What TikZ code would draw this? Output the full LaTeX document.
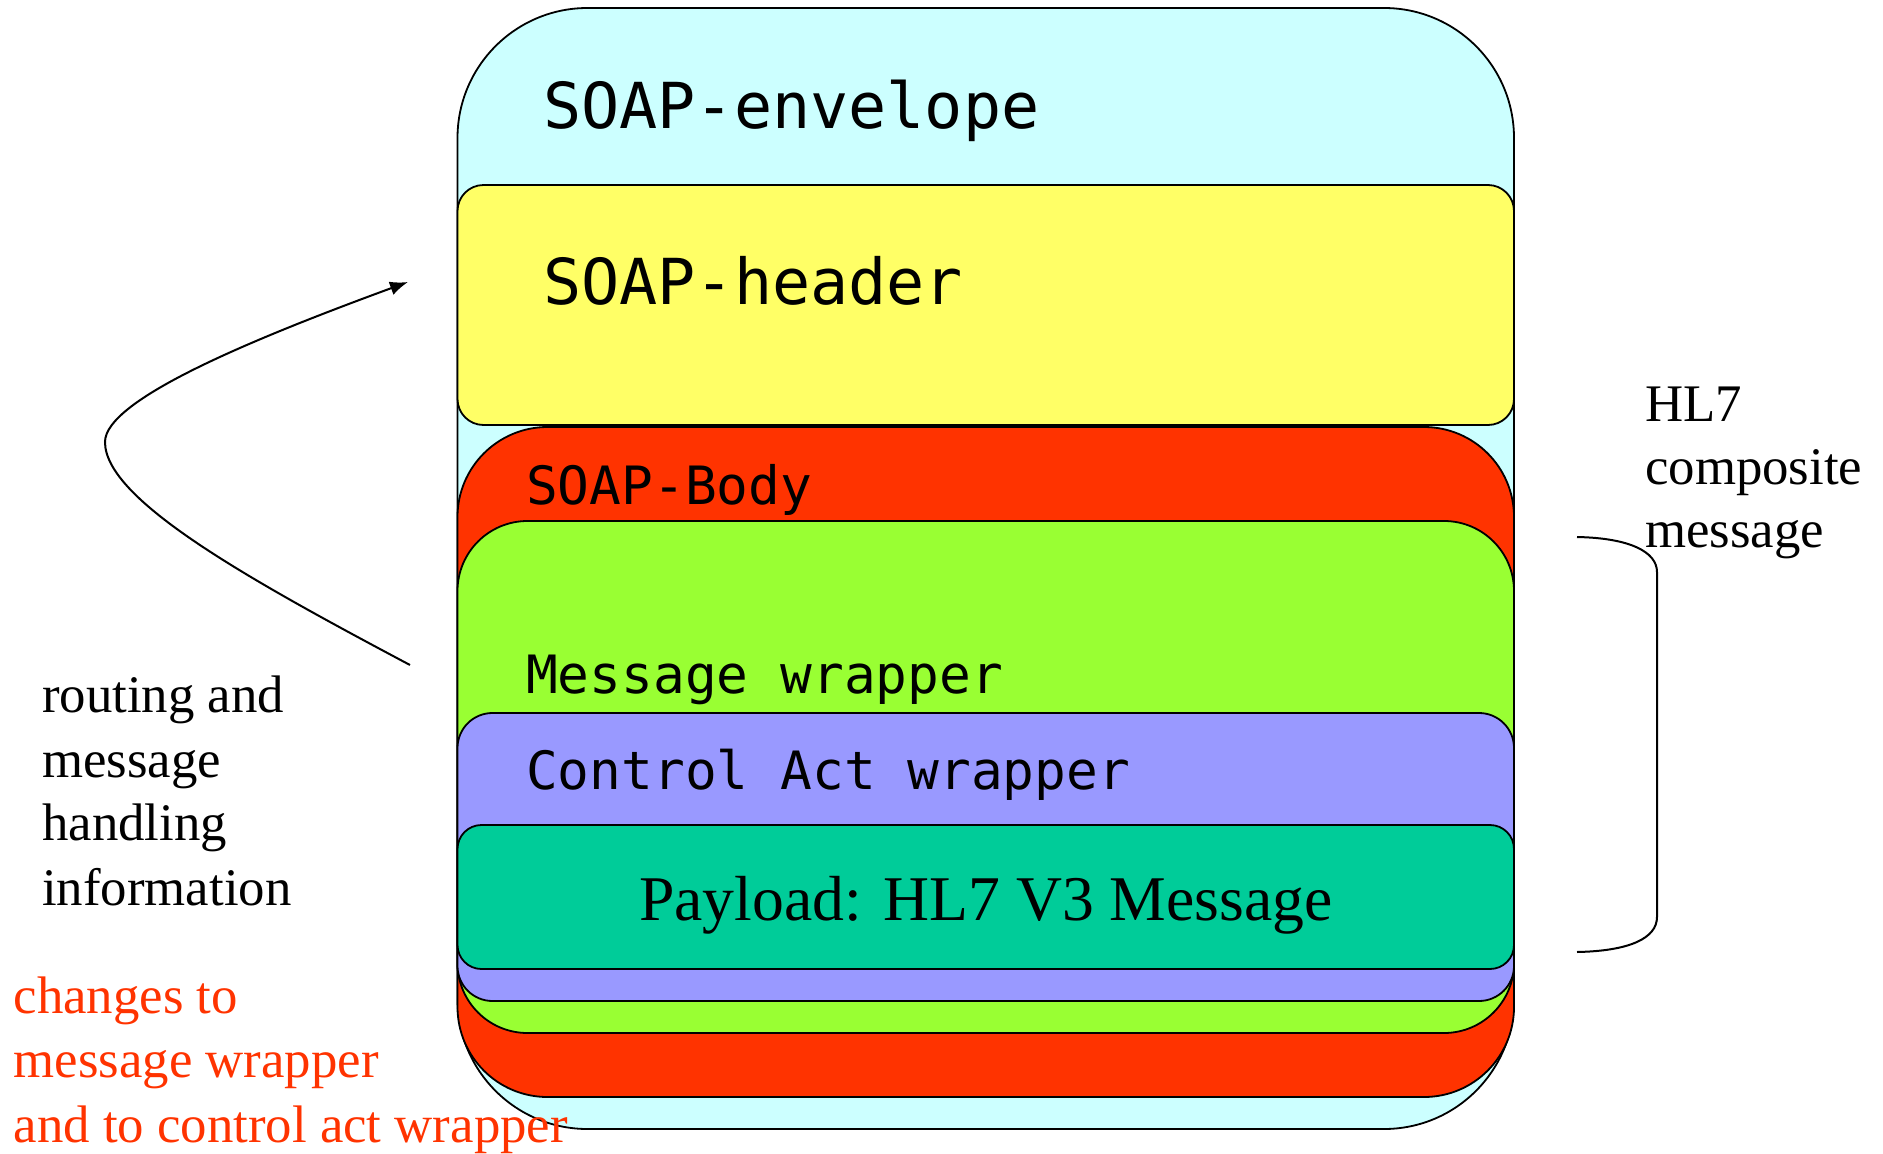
\documentclass[tikz,border=0pt]{standalone}
\usepackage{fontspec}
\setmainfont{Liberation Serif}
\newfontfamily\monof{DejaVu Sans Mono}
\usetikzlibrary{arrows.meta}
\definecolor{envc}{HTML}{CCFFFF}
\definecolor{hdrc}{HTML}{FFFF66}
\definecolor{bodyc}{HTML}{FF3300}
\definecolor{msgc}{HTML}{99FF33}
\definecolor{ctlc}{HTML}{9999FF}
\definecolor{payc}{HTML}{00CC99}
\definecolor{redtxt}{HTML}{FF3300}
\begin{document}
\begin{tikzpicture}[x=1pt,y=-1pt,
  layer/.style={draw=black, line width=1.8pt, inner sep=0pt, outer sep=0pt, minimum width=1056.5pt},
  bigmono/.style={anchor=base west, inner sep=0pt, font=\monof\fontsize{63.4}{70}\selectfont},
  monolbl/.style={anchor=base west, inner sep=0pt, font=\monof\fontsize{52.8}{60}\selectfont},
  serlbl/.style={anchor=base west, inner sep=0pt, font=\fontsize{52.8}{64}\selectfont},
  conn/.style={line width=2pt, -{Latex[length=18pt,width=14pt]}},
  bracel/.style={line width=2pt}
]
\useasboundingbox (0,0) rectangle (1883,1154);
% layers
\node[layer, fill=envc, minimum height=1121pt, rounded corners=130pt] (env) at (985.75,568.5) {};
\node[layer, fill=hdrc, minimum height=240pt, rounded corners=26pt] (hdr) at (985.75,305) {};
\node[layer, fill=bodyc, minimum height=670pt, rounded corners=90pt] (body) at (985.75,762) {};
\node[layer, fill=msgc, minimum height=512pt, rounded corners=70pt] (msg) at (985.75,777) {};
\node[layer, fill=ctlc, minimum height=288pt, rounded corners=35pt] (ctl) at (985.75,857) {};
\node[layer, fill=payc, minimum height=144pt, rounded corners=24pt] (pay) at (985.75,897) {};
% labels in layers
\node[bigmono] (tenv) at (543,128.5) {SOAP-envelope};
\node[bigmono] (thdr) at (543,304) {SOAP-header};
\node[monolbl] (tbody) at (526,504) {SOAP-Body};
\node[monolbl] (tmsg) at (526,693) {Message wrapper};
\node[monolbl] (tctl) at (526,789) {Control Act wrapper};
\node[anchor=base, inner sep=0pt, font=\fontsize{63.7}{70}\selectfont] (tpay) at (986,920) {Payload: HL7 V3 Message};
% left text
\node[serlbl] (r1) at (42,712) {routing and};
\node[serlbl] (r2) at (42,777) {message};
\node[serlbl] (r3) at (42,840) {handling};
\node[serlbl] (r4) at (42,905) {information};
\node[serlbl, text=redtxt] (c1) at (13.4,1013) {changes to};
\node[serlbl, text=redtxt] (c2) at (13.4,1077) {message wrapper};
\node[serlbl, text=redtxt] (c3) at (13.4,1142) {and to control act wrapper};
% right text
\node[serlbl] (h1) at (1645,421.5) {HL7};
\node[serlbl] (h2) at (1645,484.5) {composite};
\node[serlbl] (h3) at (1645,547.5) {message};
% arrow
\coordinate (tail) at (410,665);
\coordinate (bend) at (105,442);
\coordinate (tip) at (408,282);
\draw[conn] (tail) .. controls (250,580) and (105,500) .. (bend) .. controls (105,400) and (250,340) .. (tip);
% brace
\coordinate (btop) at (1577,537);
\coordinate (bbot) at (1577,952);
\draw[bracel] (btop) .. controls (1630,538) and (1657,552) .. (1657,572) -- (1657,917) .. controls (1657,938) and (1630,951) .. (bbot);
\end{tikzpicture}
\end{document}
